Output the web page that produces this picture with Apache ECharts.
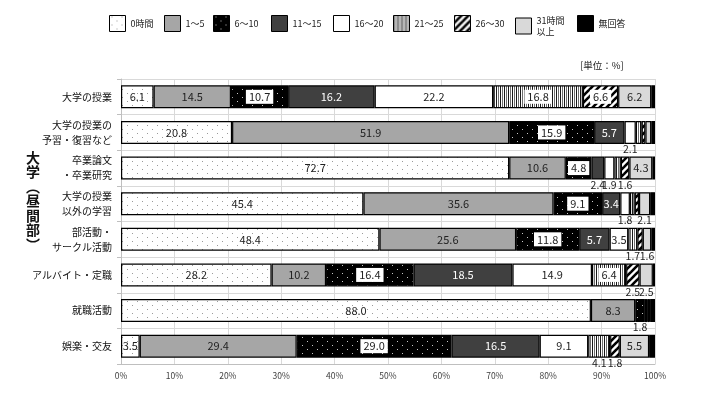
<!DOCTYPE html>
<html><head><meta charset="utf-8">
<script src="https://cdn.jsdelivr.net/npm/echarts@6/dist/echarts.min.js"></script>
<style>html,body{margin:0;padding:0;background:#fff}#c{width:712px;height:393px}</style>
</head><body><div id="c"></div>
<script>
const categories = ['大学の授業','大学の授業の\n予習・復習など','卒業論文\n・卒業研究','大学の授業\n以外の学習','部活動・\nサークル活動','アルバイト・定職','就職活動','娯楽・交友'];
const seriesNames = ['0時間','1～5','6～10','11～15','16～20','21～25','26～30','31時間\n以上','無回答'];
const v0h   = [6.1, 20.8, 72.7, 45.4, 48.4, 28.2, 88.0, 3.5];
const v1_5  = [14.5, 51.9, 10.6, 35.6, 25.6, 10.2, 8.3, 29.4];
const v6_10 = [10.7, 15.9, 4.8, 9.1, 11.8, 16.4, 1.8, 29.0];
const v11_15= [16.2, 5.7, 2.4, 3.4, 5.7, 18.5, 0.4, 16.5];
const v16_20= [22.2, 2.1, 1.9, 1.8, 3.5, 14.9, 0.1, 9.1];
const v21_25= [16.8, 1.1, 1.2, 0.9, 1.7, 6.4, 0.3, 4.1];
const v26_30= [6.6, 0.7, 1.6, 0.8, 1.0, 2.5, 0.1, 1.8];
const v31   = [6.2, 1.1, 4.3, 2.1, 1.6, 2.5, 0.1, 5.5];
const vNA   = [0.7, 0.7, 0.5, 0.9, 0.7, 0.4, 0.9, 1.1];
const allValues = [v0h, v1_5, v6_10, v11_15, v16_20, v21_25, v26_30, v31, vNA];
const xTicks = [0,10,20,30,40,50,60,70,80,90,100];

function cv(w,h,draw){const c=document.createElement('canvas');c.width=w;c.height=h;const g=c.getContext('2d');draw(g);return c;}
const dotsWhite = cv(10,8,g=>{g.fillStyle='#fff';g.fillRect(0,0,10,8);g.fillStyle='#9a9a9a';g.fillRect(2,1,1,1);g.fillRect(7,5,1,1);});
const dotsBlack = cv(10,8,g=>{g.fillStyle='#000';g.fillRect(0,0,10,8);g.fillStyle='#c8c8c8';g.fillRect(2,1,1,1);g.fillRect(7,5,1,1);});
const vStripes = cv(4,4,g=>{const cs=['#1a1a1a','#ffffff','#6e6e6e','#ffffff'];cs.forEach((c,i)=>{g.fillStyle=c;g.fillRect(i,0,1,4);});});
const diag = cv(7,7,g=>{g.fillStyle='#fff';g.fillRect(0,0,7,7);g.strokeStyle='#000';g.lineWidth=2.6;
  [[-7,0],[0,0],[7,0]].forEach(([dx])=>{g.beginPath();g.moveTo(dx-1,8);g.lineTo(dx+8,-1);g.stroke();});});
const fills = [
  {image: dotsWhite, repeat:'repeat'}, '#a6a6a6', {image: dotsBlack, repeat:'repeat'}, '#404040', '#ffffff',
  {image: vStripes, repeat:'repeat'}, {image: diag, repeat:'repeat'}, '#d9d9d9', '#000000'
];
const FONT = '"Noto Sans CJK JP", sans-serif';
const labelStyles = [
  {color:'#222'}, {color:'#222'},
  {color:'#222', backgroundColor:'#fff', padding:[2,3,1,3]},
  {color:'#fff'}, {color:'#222'},
  {color:'#222', backgroundColor:'#fff', padding:[2,3,1,3]},
  {color:'#222', backgroundColor:'#fff', padding:[2,3,1,3]},
  {color:'#222'}, {color:'#222'}
];
function makeData(vals, si){
  return vals.map(v=>{
    const item={value:v};
    if (si===8 || v<1.5) item.label={show:false};
    else if (v<3 || (si===5 && v<5)) item.label={show:true, position:'bottom', distance:0, fontSize:10.5, color:'#222', backgroundColor:'transparent', padding:0};
    return item;
  });
}
const legendLefts=[104,159,208,266,328,388,449,510,572];
const chart = echarts.init(document.getElementById('c'));
chart.setOption({
  animation:false,
  textStyle:{fontFamily:FONT},
  legend: seriesNames.map((n,i)=>({data:[n], left:legendLefts[i], top:10, icon:'rect', itemWidth:16, itemHeight:16, itemGap:0,
    textStyle:{fontSize:9, color:'#222', fontFamily:FONT, lineHeight:11}, selectedMode:false,
    itemStyle:{borderColor:'#000', borderWidth:1}})),
  graphic:[
    {type:'text', left:580, top:61, style:{text:'[単位：%]', fontSize:9.5, fill:'#222', fontFamily:FONT}},
    {type:'text', left:26, top:150, style:{text:'大\n学\n︵\n昼\n間\n部\n︶', fontSize:14, lineHeight:14.5, fontWeight:'bold', fill:'#111', fontFamily:FONT, align:'left'}}
  ],
  grid:{left:121, right:57, top:79, bottom:29, containLabel:false},
  xAxis:{type:'value', min:0, max:100, interval:10,
    axisLabel:{formatter:v=>xTicks.includes(v)?v+'%':'', fontSize:8.5, color:'#404040', margin:8, fontFamily:FONT},
    axisLine:{show:true, lineStyle:{color:'#bfbfbf'}}, axisTick:{show:false},
    splitLine:{show:true, lineStyle:{color:'#d9d9d9', width:1}}},
  yAxis:{type:'category', data:categories, inverse:true,
    axisLabel:{fontSize:10, color:'#111', margin:9, lineHeight:15, fontFamily:FONT},
    axisLine:{show:true, lineStyle:{color:'#bfbfbf'}},
    axisTick:{show:true, length:4, lineStyle:{color:'#bfbfbf'}},
    splitLine:{show:true, lineStyle:{color:'#d9d9d9', width:1}}},
  series: allValues.map((vals,si)=>({
    name: seriesNames[si], type:'bar', stack:'total', barWidth:23,
    itemStyle:{color:fills[si], borderColor:'#000', borderWidth:1.2},
    label:Object.assign({show:si!==8, position:'inside', fontSize:11, fontFamily:FONT,
      formatter:p=>Number(p.value).toFixed(1)}, labelStyles[si]),
    data: makeData(vals, si)
  }))
});
</script></body></html>
